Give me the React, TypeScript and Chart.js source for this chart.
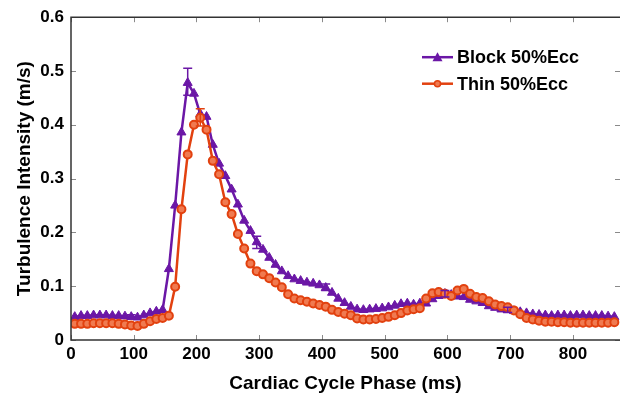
import React, { useEffect, useRef } from "react";
import { Chart, registerables } from "chart.js";

Chart.register(...registerables);

// ---------- data ----------
const phaseMs = [
  6, 16, 26, 36, 46, 56, 66, 76, 86, 96,
  106, 116, 126, 136, 146, 156, 166, 176, 186, 196,
  206, 216, 226, 236, 246, 256, 266, 276, 286, 296,
  306, 316, 326, 336, 346, 356, 366, 376, 386, 396,
  406, 416, 426, 436, 446, 456, 466, 476, 486, 496,
  506, 516, 526, 536, 546, 556, 566, 576, 586, 596,
  606, 616, 626, 636, 646, 656, 666, 676, 686, 696,
  706, 716, 726, 736, 746, 756, 766, 776, 786, 796,
  806, 816, 826, 836, 846, 856, 866,
];

const blockEcc = [
  0.043, 0.045, 0.045, 0.046, 0.046, 0.046, 0.045, 0.045, 0.044, 0.043,
  0.042, 0.046, 0.05, 0.053, 0.056, 0.132, 0.25, 0.386, 0.478, 0.458,
  0.42, 0.415, 0.363, 0.328, 0.305, 0.28, 0.252, 0.222, 0.203, 0.182,
  0.168, 0.153, 0.14, 0.128, 0.119, 0.113, 0.11, 0.107, 0.105, 0.102,
  0.097, 0.088, 0.077, 0.069, 0.062, 0.057, 0.056, 0.057, 0.058, 0.059,
  0.061, 0.064, 0.067, 0.068, 0.066, 0.068, 0.068, 0.076, 0.082, 0.086,
  0.084, 0.081, 0.08, 0.075, 0.072, 0.069, 0.063, 0.06, 0.057, 0.056,
  0.054, 0.052, 0.05, 0.048, 0.047, 0.046, 0.045, 0.046, 0.046, 0.045,
  0.046, 0.046, 0.045, 0.045, 0.045, 0.044, 0.043,
];

const thinEcc = [
  0.03, 0.03, 0.03, 0.031, 0.031, 0.031, 0.031, 0.03, 0.029, 0.027,
  0.026, 0.03, 0.035, 0.039, 0.041, 0.045, 0.099, 0.243, 0.345, 0.4,
  0.413, 0.391, 0.333, 0.308, 0.256, 0.234, 0.197, 0.17, 0.142, 0.128,
  0.122, 0.115, 0.107, 0.098, 0.085, 0.077, 0.074, 0.071, 0.068, 0.065,
  0.062, 0.056, 0.052, 0.049, 0.046, 0.04, 0.038, 0.038, 0.039, 0.041,
  0.043, 0.046, 0.05, 0.055, 0.057, 0.059, 0.077, 0.087, 0.089, 0.086,
  0.082, 0.092, 0.095, 0.086, 0.08, 0.078, 0.072, 0.066, 0.063, 0.061,
  0.055, 0.048, 0.041, 0.038, 0.036, 0.034, 0.034, 0.033, 0.033, 0.032,
  0.032, 0.032, 0.032, 0.032, 0.032, 0.032, 0.033,
];

const xTicks = [0, 100, 200, 300, 400, 500, 600, 700, 800];
const yTicks = [0, 0.1, 0.2, 0.3, 0.4, 0.5, 0.6];

const blockErrT = [96, 186, 296, 406, 596, 696];
const blockErrLow = [0.04, 0.455, 0.17, 0.092, 0.08, 0.051];
const blockErrHigh = [0.047, 0.505, 0.193, 0.104, 0.092, 0.061];

const thinErrT = [206];
const thinErrLow = [0.398];
const thinErrHigh = [0.43];

const seriesLabels = ["Block 50%Ecc", "Thin 50%Ecc"];

// ---------- style ----------
const PURPLE = "#6B17A6";
const ORANGE = "#E2410F";
const ORANGE_FILL = "#F07A50";
const FONT = "'Liberation Sans', Arial, Helvetica, sans-serif";

const frameAndTicks = {
  id: "frameAndTicks",
  afterDraw(chart: any) {
    const { ctx, chartArea } = chart;
    const xs = chart.scales.x;
    const ys = chart.scales.y;
    const { left, right, top, bottom } = chartArea;
    ctx.save();
    ctx.strokeStyle = "#8a8a8a";
    ctx.lineWidth = 1;
    const tl = 5;
    xs.ticks.forEach((t: any) => {
      const x = Math.round(xs.getPixelForValue(t.value)) + 0.5;
      ctx.beginPath();
      ctx.moveTo(x, bottom);
      ctx.lineTo(x, bottom - tl);
      ctx.moveTo(x, top);
      ctx.lineTo(x, top + tl);
      ctx.stroke();
    });
    ys.ticks.forEach((t: any) => {
      const y = Math.round(ys.getPixelForValue(t.value)) + 0.5;
      ctx.beginPath();
      ctx.moveTo(left, y);
      ctx.lineTo(left + tl, y);
      ctx.moveTo(right, y);
      ctx.lineTo(right - tl, y);
      ctx.stroke();
    });
    ctx.strokeStyle = "#333333";
    ctx.lineWidth = 1.5;
    ctx.beginPath();
    ctx.moveTo(right, top);
    ctx.lineTo(left, top);
    ctx.lineTo(left, bottom);
    ctx.lineTo(right, bottom);
    ctx.stroke();
    ctx.restore();
  },
};

const errorBars = {
  id: "errorBars",
  afterDatasetsDraw(chart: any) {
    const { ctx } = chart;
    const xs = chart.scales.x;
    const ys = chart.scales.y;
    const draw = (ts: number[], lo: number[], hi: number[], color: string) => {
      ctx.save();
      ctx.strokeStyle = color;
      ctx.lineWidth = 1.5;
      ts.forEach((t, i) => {
        const x = xs.getPixelForValue(t);
        const y1 = ys.getPixelForValue(lo[i]);
        const y2 = ys.getPixelForValue(hi[i]);
        ctx.beginPath();
        ctx.moveTo(x, y1);
        ctx.lineTo(x, y2);
        ctx.moveTo(x - 4.5, y1);
        ctx.lineTo(x + 4.5, y1);
        ctx.moveTo(x - 4.5, y2);
        ctx.lineTo(x + 4.5, y2);
        ctx.stroke();
      });
      ctx.restore();
    };
    draw(blockErrT, blockErrLow, blockErrHigh, PURPLE);
    draw(thinErrT, thinErrLow, thinErrHigh, ORANGE);
  },
};

const insideLegend = {
  id: "insideLegend",
  afterDraw(chart: any) {
    const { ctx, chartArea } = chart;
    const x0 = chartArea.right - 198;
    const x1 = chartArea.right - 167;
    const rows = [chartArea.top + 40, chartArea.top + 66.5];
    ctx.save();
    chart.data.datasets.forEach((ds: any) => {
      const y = rows[ds.legendRow];
      ctx.strokeStyle = ds.borderColor;
      ctx.lineWidth = 2.5;
      ctx.beginPath();
      ctx.moveTo(x0, y);
      ctx.lineTo(x1, y);
      ctx.stroke();
      const cx = (x0 + x1) / 2;
      ctx.fillStyle = ds.borderColor;
      if (ds.pointStyle === "triangle") {
        ctx.beginPath();
        ctx.moveTo(cx, y - 5);
        ctx.lineTo(cx - 5, y + 4);
        ctx.lineTo(cx + 5, y + 4);
        ctx.closePath();
        ctx.fill();
      } else {
        ctx.beginPath();
        ctx.arc(cx, y, 3, 0, Math.PI * 2);
        ctx.fillStyle = ORANGE_FILL;
        ctx.fill();
        ctx.lineWidth = 1.5;
        ctx.stroke();
      }
      ctx.fillStyle = "#000";
      ctx.font = `bold 18px ${FONT}`;
      ctx.textAlign = "left";
      ctx.textBaseline = "middle";
      ctx.fillText(ds.label, x1 + 4, y + 1);
    });
    ctx.restore();
  },
};

export default function App() {
  const ref = useRef<HTMLCanvasElement | null>(null);

  useEffect(() => {
    document.body.style.margin = "0";
    const canvas = ref.current;
    if (!canvas) return;
    const chart = new Chart(canvas, {
      type: "line",
      data: {
        datasets: [
          {
            label: seriesLabels[0],
            legendRow: 0,
            data: phaseMs.map((t, i) => ({ x: t, y: blockEcc[i] })),
            borderColor: PURPLE,
            backgroundColor: PURPLE,
            borderWidth: 2.5,
            pointStyle: "triangle",
            pointRadius: 5.2,
            pointBorderWidth: 1,
            pointBackgroundColor: PURPLE,
            pointBorderColor: PURPLE,
            tension: 0,
            order: 1,
          } as any,
          {
            label: seriesLabels[1],
            legendRow: 1,
            data: phaseMs.map((t, i) => ({ x: t, y: thinEcc[i] })),
            borderColor: ORANGE,
            backgroundColor: ORANGE_FILL,
            borderWidth: 2.5,
            pointStyle: "circle",
            pointRadius: 4,
            pointBorderWidth: 2,
            pointBackgroundColor: ORANGE_FILL,
            pointBorderColor: ORANGE,
            tension: 0,
            order: 0,
          } as any,
        ],
      },
      options: {
        animation: false,
        responsive: false,
        maintainAspectRatio: false,
        layout: { autoPadding: false, padding: { top: 15, right: 0, bottom: 0, left: 0 } },
        plugins: {
          legend: { display: false },
          tooltip: { enabled: false },
        },
        scales: {
          x: {
            type: "linear",
            min: 0,
            max: 875,
            afterBuildTicks: (s: any) => {
              s.ticks = xTicks.map((v) => ({ value: v }));
            },
            afterFit: (s: any) => {
              s.height = 60;
            },
            grid: { display: false, drawTicks: false },
            border: { display: false },
            ticks: {
              padding: 4,
              color: "#000",
              font: { family: FONT, size: 17, weight: "bold" },
              maxRotation: 0,
              callback: (v: any) => String(v),
            },
            title: {
              display: true,
              text: "Cardiac Cycle Phase (ms)",
              color: "#000",
              font: { family: FONT, size: 19, weight: "bold" },
              padding: { top: 0, bottom: 5 },
            },
          },
          y: {
            type: "linear",
            min: 0,
            max: 0.6,
            afterBuildTicks: (s: any) => {
              s.ticks = yTicks.map((v) => ({ value: v }));
            },
            afterFit: (s: any) => {
              s.width = 71;
            },
            grid: { display: false, drawTicks: false },
            border: { display: false },
            ticks: {
              padding: 7,
              color: "#000",
              font: { family: FONT, size: 17, weight: "bold" },
              callback: (v: any) => (Number(v) === 0 ? "0" : Number(v).toFixed(1)),
            },
            title: {
              display: true,
              text: "Turbulence Intensity (m/s)",
              color: "#000",
              font: { family: FONT, size: 19, weight: "bold" },
              padding: { top: 13, bottom: 0 },
            },
          },
        },
      } as any,
      plugins: [errorBars, frameAndTicks, insideLegend],
    });
    return () => chart.destroy();
  }, []);

  return (
    <div style={{ width: 620, height: 400, background: "#fff" }}>
      <canvas ref={ref} width={620} height={400} style={{ display: "block" }} />
    </div>
  );
}
